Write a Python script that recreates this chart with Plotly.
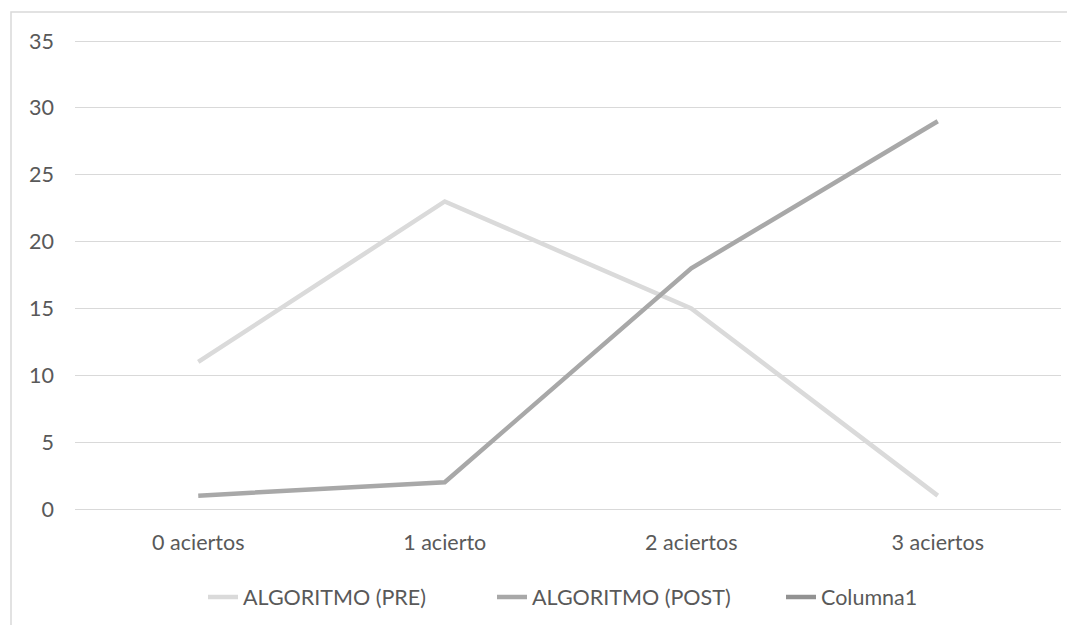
import plotly.graph_objects as go

categories = ["0 aciertos", "1 acierto", "2 aciertos", "3 aciertos"]
pre_values = [11, 23, 15, 1]
post_values = [1, 2, 18, 29]
columna1_values = [None, None, None, None]
y_ticks = [0, 5, 10, 15, 20, 25, 30, 35]

# page has an 8px body margin: work in page pixels, convert to figure pixels
OFF = 8
W, H = 1075 - OFF, 625 - OFF
PAD = 2  # keep end gridlines from being clipped
plot_left, plot_right = 75, 1061
plot_top, plot_bottom = 41 - PAD, 509 + PAD
L = plot_left - OFF
R = W - (plot_right - OFF)
T = plot_top - OFF
B = H - (plot_bottom - OFF)
pw = W - L - R
ph = H - T - B
unit = (509 - 41) / 35.0
ypad = PAD / unit

font_family = "Lato, 'Open Sans', sans-serif"
text_color = "#595959"
grid_color = "#d9d9d9"
fs = 21.5

fig = go.Figure()
fig.add_trace(go.Scatter(x=categories, y=pre_values, name="ALGORITMO (PRE)", mode="lines",
                         line=dict(color="#dadada", width=4.5)))
fig.add_trace(go.Scatter(x=categories, y=post_values, name="ALGORITMO (POST)", mode="lines",
                         line=dict(color="#a8a8a8", width=4.5)))
fig.add_trace(go.Scatter(x=categories, y=columna1_values, name="Columna1", mode="lines",
                         line=dict(color="#929292", width=4.5)))


def px_x(p):
    return (p - OFF - L) / pw


def px_y(p):
    return (H - B - (p - OFF)) / ph


# outer chart border
fig.add_shape(type="rect", xref="paper", yref="paper",
              x0=px_x(11), x1=px_x(1095), y0=px_y(645), y1=px_y(12),
              line=dict(color="#d9d9d9", width=1.5), fillcolor="rgba(0,0,0,0)", layer="below")

fig.update_layout(
    width=W, height=H,
    margin=dict(l=L, r=R, t=T, b=B, autoexpand=False),
    paper_bgcolor="white", plot_bgcolor="white",
    font=dict(family=font_family, size=fs, color=text_color),
    showlegend=True,
    legend=dict(orientation="h", x=px_x(203), xanchor="left", y=px_y(597), yanchor="middle",
                font=dict(size=fs, color=text_color), traceorder="normal",
                entrywidth=244, entrywidthmode="pixels"),
    xaxis=dict(type="category", showgrid=False, zeroline=False, showline=False, automargin=False,
               ticks="", tickfont=dict(size=fs, color=text_color), range=[-0.5, 3.5],
               ticklabelstandoff=16),
    yaxis=dict(range=[-ypad, 35 + ypad], tickvals=y_ticks, showgrid=True, gridcolor=grid_color,
               gridwidth=1.3, zeroline=False, showline=False, ticks="", automargin=False,
               tickfont=dict(size=fs, color=text_color), ticklabelstandoff=20),
)

fig.write_html("out.html")
